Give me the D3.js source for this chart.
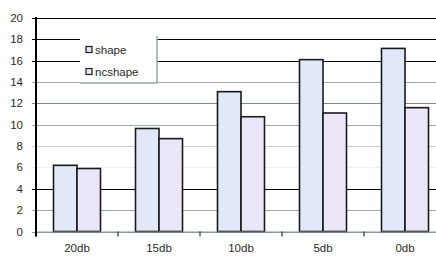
<!DOCTYPE html>
<html><head><meta charset="utf-8">
<script src="https://cdn.jsdelivr.net/npm/d3@7"></script>
<style>html,body{margin:0;padding:0;background:#fff;overflow:hidden}</style>
</head><body>
<svg id="c" width="436" height="258"></svg>
<script>
const categories = ["20db", "15db", "10db", "5db", "0db"];
const seriesNames = ["shape", "ncshape"];
const shapeValues = [6.2, 9.65, 13.1, 16.1, 17.15];
const ncshapeValues = [5.9, 8.7, 10.75, 11.1, 11.6];
const yTicks = [0, 2, 4, 6, 8, 10, 12, 14, 16, 18, 20];
const gridColors = {0:"#8a9898",2:"#9aa8a8",4:"#000",6:"#f0f0f0",8:"#c8d0d0",10:"#9aa8a8",12:"#7f8c8c",14:"#9aa8a8",16:"#000",18:"#000",20:"#000"};

(function () {
const svg = d3.select("#c");
const pLeft = 36, pRight = 446, pTop = 18, pBottom = 231.5;
const x = d3.scaleBand().domain(categories).range([pLeft, pRight]);
const xs = d3.scaleBand().domain(seriesNames).range([0, 47]);
const y = d3.scaleLinear().domain([0, 20]).range([pBottom, pTop]);
const fills = {shape: "#e1e8f8", ncshape: "#ece7f8"};
const font = "Liberation Sans, Arial, sans-serif";

// gridlines
svg.append("g").selectAll("line").data(yTicks).join("line")
  .attr("x1", pLeft - 4).attr("x2", pRight)
  .attr("y1", d => Math.round(y(d)) + 0.5).attr("y2", d => Math.round(y(d)) + 0.5)
  .attr("stroke", d => gridColors[d]).attr("stroke-width", 1.2);

// y labels
svg.append("g").selectAll("text").data(yTicks).join("text")
  .attr("x", 23).attr("y", d => y(d) + 4)
  .attr("text-anchor", "end")
  .attr("font-family", font)
  .attr("font-size", 11.5).attr("fill", "#2a2a2a")
  .text(d => d);

// bars
const data = categories.map((c, i) => ({c, vals: [
  {s: "shape", v: shapeValues[i]}, {s: "ncshape", v: ncshapeValues[i]}]}));
const g = svg.append("g").selectAll("g").data(data).join("g")
  .attr("transform", d => `translate(${x(d.c) + x.bandwidth() / 2 - 23.5},0)`);
g.selectAll("rect").data(d => d.vals).join("rect")
  .attr("x", d => xs(d.s)).attr("width", xs.bandwidth())
  .attr("y", d => y(d.v)).attr("height", d => pBottom - y(d.v))
  .attr("fill", d => fills[d.s]).attr("stroke", "#1a1a1a").attr("stroke-width", 1.6);

// x axis
const xa = svg.append("g").attr("transform", `translate(0,${pBottom})`)
  .call(d3.axisBottom(x).tickSize(0).tickPadding(12));
xa.select(".domain").attr("stroke", "#8a9898").attr("stroke-width", 1.2);
xa.selectAll("text").attr("font-family", font)
  .attr("font-size", 11.5).attr("fill", "#2a2a2a");
svg.append("g").selectAll("line").data(categories).join("line")
  .attr("x1", d => x(d)).attr("x2", d => x(d))
  .attr("y1", pBottom).attr("y2", pBottom + 5).attr("stroke", "#333").attr("stroke-width", 1.2);

// y axis line
svg.append("line").attr("x1", pLeft).attr("x2", pLeft).attr("y1", pTop - 1).attr("y2", pBottom + 5)
  .attr("stroke", "#000").attr("stroke-width", 2);

// legend
const lg = svg.append("g").attr("transform", "translate(80,36)");
lg.append("rect").attr("width", 77).attr("height", 47).attr("fill", "#fff");
lg.append("path").attr("d", "M77,0V47H0").attr("fill", "none").attr("stroke", "#9aa8a8").attr("stroke-width", 1.5);
const items = lg.selectAll("g").data(seriesNames).join("g")
  .attr("transform", (d, i) => `translate(6,${14 + i * 22})`);
items.append("rect").attr("x", 0).attr("y", -3.5).attr("width", 6).attr("height", 6)
  .attr("fill", d => fills[d]).attr("stroke", "#1a1a1a").attr("stroke-width", 1.2);
items.append("text").attr("x", 9).attr("y", 4)
  .attr("font-family", font)
  .attr("font-size", 11.5).attr("fill", "#2a2a2a").text(d => d);
})();
</script>
</body></html>
